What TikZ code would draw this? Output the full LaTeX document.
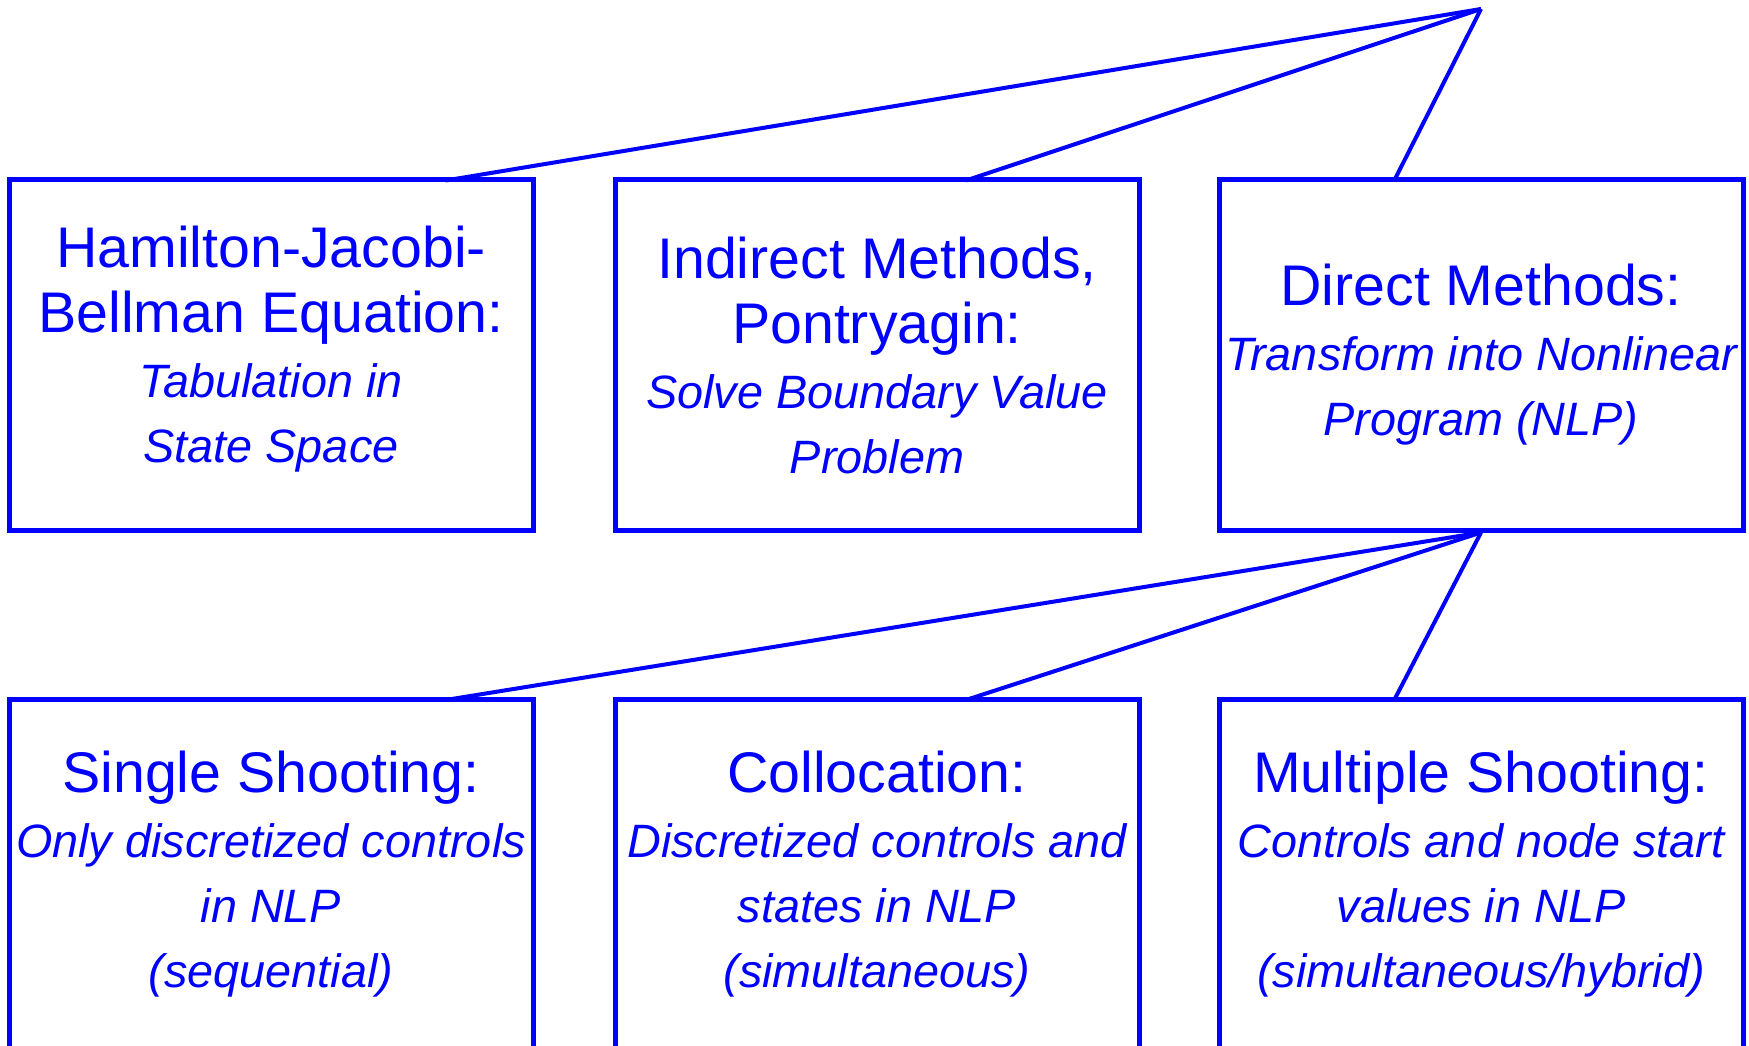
\documentclass[tikz,border=0pt]{standalone}
\usepackage{fontspec}
\setmainfont{Liberation Sans}
\usetikzlibrary{calc}
\definecolor{dblue}{RGB}{0,0,255}
\newcommand\hdfont{\fontsize{57.3}{65}\selectfont}
\newcommand\subtxt{\fontsize{46.8}{65}\selectfont\itshape}
\begin{document}
\begin{tikzpicture}[x=1pt,y=-1pt,
  box/.style={draw=dblue, line width=5pt, minimum width=524pt, minimum height=350pt,
    text width=524pt, inner sep=0pt, align=flush center, text=dblue, font=\hdfont},
  link/.style={draw=dblue, line width=4pt, line cap=butt}]
\useasboundingbox (0,0) rectangle (1749,1046);
\clip (0,0) rectangle (1749,1046);
\node[box] (hjb) at (271,355) {Hamilton-Jacobi-\\Bellman Equation:\\\subtxt Tabulation in\\State Space\rule[-22pt]{0pt}{1pt}};
\node[box] (ind) at (877,355) {Indirect Methods,\\Pontryagin:\\\subtxt Solve Boundary Value\\Problem};
\node[box] (dir) at (1481,355) {Direct Methods:\\\subtxt \mbox{Transform into Nonlinear}\\Program (NLP)};
\node[box] (ss) at (271,874.5) {Single Shooting:\\\subtxt \mbox{Only discretized controls}\\in NLP\\(sequential)};
\node[box] (col) at (877,874.5) {Collocation:\\\subtxt \mbox{Discretized controls and}\\states in NLP\\(simultaneous)};
\node[box] (ms) at (1481,874.5) {Multiple Shooting:\\\subtxt \mbox{Controls and node start}\\values in NLP\\(simultaneous/hybrid)};
\coordinate (top) at (1481,9);
\draw[link] (top) -- ($(hjb.north west)!0.83!(hjb.north east)+(0,3)$);
\draw[link] (top) -- ($(ind.north west)!0.668!(ind.north east)+(0,3)$);
\draw[link] (top) -- ($(dir.north west)!0.336!(dir.north east)+(0,3)$);
\draw[link] (dir.south) -- ($(ss.north west)!0.83!(ss.north east)+(0,3)$);
\draw[link] (dir.south) -- ($(col.north west)!0.668!(col.north east)+(0,3)$);
\draw[link] (dir.south) -- ($(ms.north west)!0.336!(ms.north east)+(0,3)$);
\end{tikzpicture}
\end{document}
